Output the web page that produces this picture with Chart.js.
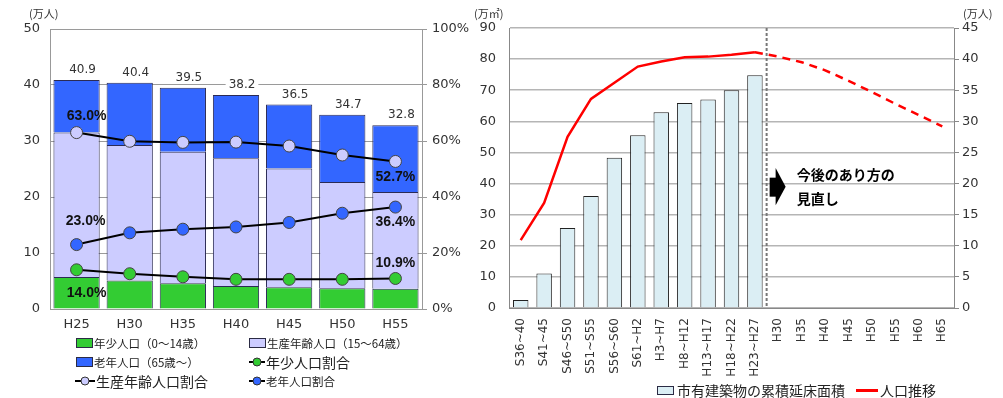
<!DOCTYPE html>
<html>
<head>
<meta charset="utf-8">
<script src="https://cdn.jsdelivr.net/npm/chart.js@4.4.1/dist/chart.umd.min.js"></script>
<style>
  body { margin: 0; background: #fff; width: 1003px; height: 398px; overflow: hidden; position: relative;
         font-family: "Noto Sans CJK JP", sans-serif; color: #222; }
  #popWrap { position: absolute; left: 0; top: 0; width: 480px; height: 398px; }
  #areaWrap { position: absolute; left: 470px; top: 0; width: 533px; height: 398px; }
  .unit { position: absolute; font-size: 11px; line-height: 14px; top: 6px; color: #333; }
  .leg { position: absolute; white-space: nowrap; display: flex; align-items: center; height: 18px; font-size: 11.5px; color: #222; }
  .leg.big { font-size: 14px; }
  .box { display: inline-block; width: 15px; height: 8px; border: 1px solid #2b2b44; margin-right: 1px; }
  .leg svg { margin-right: 1px; }
</style>
</head>
<body>
<div id="popWrap"><canvas id="popChart" width="480" height="398"></canvas></div>
<div id="areaWrap"><canvas id="areaChart" width="533" height="398"></canvas></div>

<span class="unit" style="left:29px">(万人)</span>
<span class="unit" style="left:474px">(万㎡)</span>
<span class="unit" style="left:963px">(万人)</span>

<!-- left legend -->
<div class="leg" style="left:76px;top:334px"><span class="box" style="background:#33cc33"></span>年少人口（0～14歳）</div>
<div class="leg" style="left:249px;top:334px"><span class="box" style="background:#ccccff"></span>生産年齢人口（15～64歳）</div>
<div class="leg" style="left:76px;top:353px"><span class="box" style="background:#3366ff"></span>老年人口（65歳～）</div>
<div class="leg big" style="left:249px;top:353px"><svg width="16" height="10"><line x1="0" y1="5" x2="16" y2="5" stroke="#000" stroke-width="2"/><circle cx="8" cy="5" r="4" fill="#33cc33" stroke="#333" stroke-width="1"/></svg>年少人口割合</div>
<div class="leg big" style="left:75px;top:372px"><svg width="20" height="10"><line x1="0" y1="5" x2="20" y2="5" stroke="#000" stroke-width="2"/><circle cx="10" cy="5" r="4" fill="#ccccff" stroke="#333" stroke-width="1"/></svg>生産年齢人口割合</div>
<div class="leg" style="left:249px;top:372px"><svg width="16" height="10"><line x1="0" y1="5" x2="16" y2="5" stroke="#000" stroke-width="2"/><circle cx="8" cy="5" r="4" fill="#3366ff" stroke="#333" stroke-width="1"/></svg>老年人口割合</div>

<!-- right legend -->
<div class="leg big" style="left:657px;top:381px"><span class="box" style="background:#dbeef4;width:15px;height:7px;margin-right:3px"></span>市有建築物の累積延床面積</div>
<div class="leg big" style="left:856px;top:381px"><span style="display:inline-block;width:22px;height:3px;background:#ff0000;margin-right:2px"></span>人口推移</div>

<script>
// left chart: population by age group (万人) and shares (%)
const years = ['H25', 'H30', 'H35', 'H40', 'H45', 'H50', 'H55'];
const youngPop = [5.7, 5.1, 4.6, 4.1, 3.9, 3.7, 3.6];
const workingPop = [25.8, 24.2, 23.5, 22.8, 21.2, 19.0, 17.3];
const elderlyPop = [9.4, 11.1, 11.4, 11.3, 11.4, 12.0, 11.9];
const youngRate = [14.0, 12.6, 11.5, 10.6, 10.6, 10.6, 10.9];
const workingRate = [63.0, 59.9, 59.5, 59.6, 58.2, 55.0, 52.7];
const elderlyRate = [23.0, 27.2, 28.5, 29.3, 30.9, 34.2, 36.4];

// right chart: cumulative floor area (万㎡) and population (万人)
const periods = ['S36~40', 'S41~45', 'S46~S50', 'S51~S55', 'S56~S60', 'S61~H2', 'H3~H7', 'H8~H12',
                 'H13~H17', 'H18~H22', 'H23~H27', 'H30', 'H35', 'H40', 'H45', 'H50', 'H55', 'H60', 'H65'];
const floorArea = [2.6, 11.1, 25.7, 36.0, 48.3, 55.5, 62.9, 65.9, 67.0, 70.0, 74.8];
const population = [10.9, 16.9, 27.5, 33.6, 36.2, 38.8, 39.6, 40.3, 40.4, 40.7, 41.1,
                    40.4, 39.5, 38.2, 36.5, 34.7, 32.8, 31.0, 29.2];
const lastActual = 10; // index of last actual (non-projected) period

Chart.defaults.font.family = 'DejaVu Sans';
Chart.defaults.color = '#333';

// which rate points get a text label, and where relative to the point
const rateLabels = [
    { ds: 4, i: 0, dx: 10, dy: -16 },
    { ds: 4, i: 6, dx: 0, dy: 16 },
    { ds: 5, i: 0, dx: 9, dy: -23 },
    { ds: 5, i: 6, dx: 0, dy: 15 },
    { ds: 3, i: 0, dx: 10, dy: 23 },
    { ds: 3, i: 6, dx: 0, dy: -15 }
];

const popLabels = {
    id: 'popLabels',
    afterDatasetsDraw(chart) {
        const ctx = chart.ctx;
        ctx.save();
        ctx.textAlign = 'center';
        ctx.textBaseline = 'middle';
        // totals above the stacks
        ctx.font = '12px "DejaVu Sans"';
        const top = chart.getDatasetMeta(2).data;
        top.forEach((bar, i) => {
            const total = (youngPop[i] + workingPop[i] + elderlyPop[i]).toFixed(1);
            const x = bar.x + 6, y = bar.y - 10;
            const w = ctx.measureText(total).width;
            ctx.fillStyle = '#fff';
            ctx.fillRect(x - w / 2 - 3, y - 6, w + 6, 12);
            ctx.fillStyle = '#333';
            ctx.fillText(total, x, y);
        });
        // share labels
        ctx.font = 'bold 14px "Liberation Sans"';
        ctx.fillStyle = '#111';
        rateLabels.forEach(l => {
            const pt = chart.getDatasetMeta(l.ds).data[l.i];
            const v = chart.data.datasets[l.ds].data[l.i];
            ctx.fillText(v.toFixed(1) + '%', pt.x + l.dx, pt.y + l.dy);
        });
        ctx.restore();
    }
};

const rateLine = (label, data, fill) => ({
    type: 'line', label: label, data: data, yAxisID: 'y2', order: 0,
    borderColor: '#000', borderWidth: 2, tension: 0,
    pointRadius: 6, pointBackgroundColor: fill, pointBorderColor: '#444', pointBorderWidth: 1
});

new Chart(document.getElementById('popChart'), {
    type: 'bar',
    data: {
        labels: years,
        datasets: [
            { label: '年少人口（0～14歳）', data: youngPop, backgroundColor: '#33cc33', borderColor: '#2b2b55', borderWidth: 1, order: 1 },
            { label: '生産年齢人口（15～64歳）', data: workingPop, backgroundColor: '#ccccff', borderColor: '#2b2b55', borderWidth: 1, order: 1 },
            { label: '老年人口（65歳～）', data: elderlyPop, backgroundColor: '#3366ff', borderColor: '#2b2b55', borderWidth: 1, order: 1 },
            rateLine('年少人口割合', youngRate, '#33cc33'),
            rateLine('生産年齢人口割合', workingRate, '#ccccff'),
            rateLine('老年人口割合', elderlyRate, '#3366ff')
        ]
    },
    options: {
        responsive: false,
        animation: false,
        layout: { padding: { top: 29, left: 0, right: 0, bottom: 0 } },
        datasets: { bar: { barPercentage: 0.87, categoryPercentage: 1 } },
        plugins: { legend: { display: false }, tooltip: { enabled: false } },
        scales: {
            x: {
                stacked: true,
                grid: { display: false },
                border: { display: true, color: '#999' },
                ticks: { font: { size: 13 }, padding: 0 },
                afterFit: s => { s.height = 89; }
            },
            y: {
                stacked: true, min: 0, max: 50,
                ticks: { stepSize: 10, font: { size: 13 }, padding: 10 },
                grid: { color: '#9a9a9a', drawTicks: false },
                border: { color: '#999' },
                afterFit: s => { s.width = 50; }
            },
            y2: {
                position: 'right', min: 0, max: 100,
                ticks: { stepSize: 20, font: { size: 13 }, padding: 5, callback: v => v + '%' },
                grid: { drawOnChartArea: false, color: '#999', tickLength: 5 },
                border: { color: '#999' },
                afterFit: s => { s.width = 58; }
            }
        }
    },
    plugins: [popLabels]
});

// dashed divider, arrow and note on the right chart
const divider = {
    id: 'divider',
    afterDatasetsDraw(chart) {
        const ctx = chart.ctx, x = chart.scales.x, y = chart.scales.y, area = chart.chartArea;
        const xb = (x.getPixelForValue(lastActual) + x.getPixelForValue(lastActual + 1)) / 2;
        ctx.save();
        ctx.strokeStyle = '#777';
        ctx.lineWidth = 2;
        ctx.setLineDash([3, 2]);
        ctx.beginPath();
        ctx.moveTo(xb, area.top);
        ctx.lineTo(xb, area.bottom);
        ctx.stroke();
        ctx.setLineDash([]);
        // arrow
        const yt = y.getPixelForValue(45), yb = y.getPixelForValue(33), ym = (yt + yb) / 2;
        ctx.fillStyle = '#000';
        ctx.fillRect(xb + 3, ym - 9, 7, 19);
        ctx.beginPath();
        ctx.moveTo(xb + 9, yt);
        ctx.lineTo(xb + 19, ym);
        ctx.lineTo(xb + 9, yb);
        ctx.closePath();
        ctx.fill();
        // note
        ctx.font = 'bold 14px "Noto Sans CJK JP"';
        ctx.textAlign = 'left';
        ctx.textBaseline = 'middle';
        ctx.fillText('今後のあり方の', xb + 30, y.getPixelForValue(42.8));
        ctx.fillText('見直し', xb + 30, y.getPixelForValue(35.1));
        ctx.restore();
    }
};

new Chart(document.getElementById('areaChart'), {
    type: 'bar',
    data: {
        labels: periods,
        datasets: [
            {
                type: 'line', label: '人口推移', data: population, yAxisID: 'y1', order: 0,
                borderColor: '#ff0000', borderWidth: 2.5, pointRadius: 0, tension: 0,
                segment: { borderDash: c => c.p0DataIndex >= lastActual ? [8, 6] : undefined }
            },
            {
                label: '市有建築物の累積延床面積', data: floorArea, yAxisID: 'y', order: 1,
                backgroundColor: '#dbeef4', borderColor: '#222', borderWidth: 1,
                barPercentage: 0.66, categoryPercentage: 1
            }
        ]
    },
    options: {
        responsive: false,
        animation: false,
        layout: { padding: { top: 28, left: 0, right: 0, bottom: 0 } },
        plugins: { legend: { display: false }, tooltip: { enabled: false } },
        scales: {
            x: {
                grid: { display: false },
                border: { display: true, color: '#888' },
                ticks: { font: { size: 12 }, minRotation: 90, maxRotation: 90, padding: 2, autoSkip: false },
                afterFit: s => { s.height = 90; }
            },
            y: {
                min: 0, max: 90,
                ticks: { stepSize: 10, font: { size: 13 }, padding: 13 },
                grid: { color: '#b5b5b5', lineWidth: 1.5, drawTicks: false },
                border: { color: '#888' },
                afterFit: s => { s.width = 39; }
            },
            y1: {
                position: 'right', min: 0, max: 45,
                ticks: { stepSize: 5, font: { size: 13 }, padding: 3 },
                grid: { drawOnChartArea: false, color: '#888', tickLength: 5 },
                border: { color: '#888' },
                afterFit: s => { s.width = 49; }
            }
        }
    },
    plugins: [divider]
});
</script>
</body>
</html>
